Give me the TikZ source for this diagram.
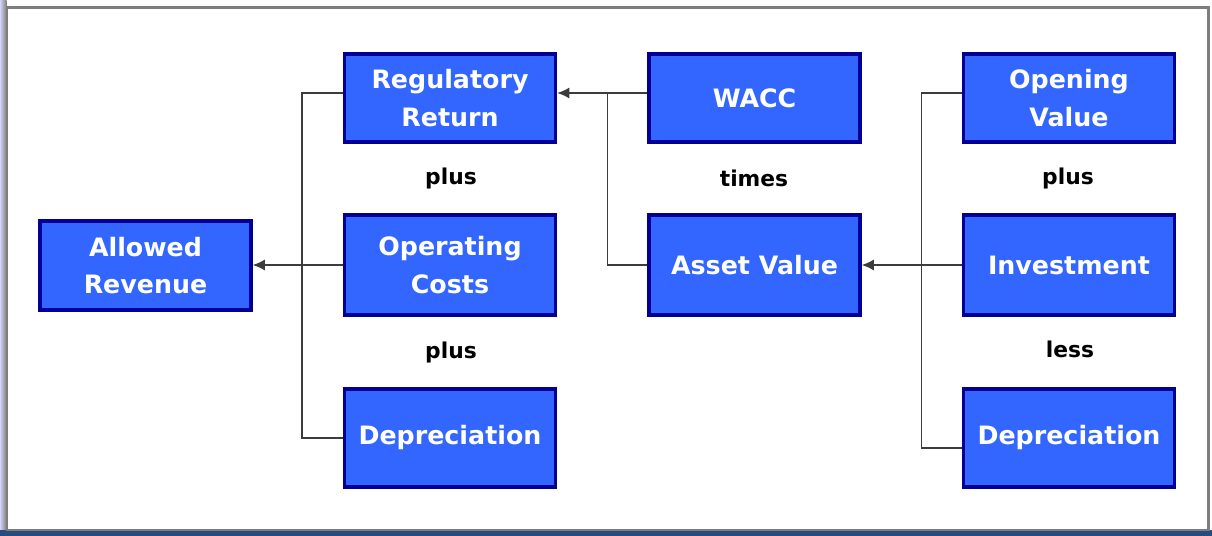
\documentclass[tikz,border=0pt]{standalone}
\usepackage{fontspec}
\setmainfont{DejaVu Sans}
\usetikzlibrary{shapes,arrows,arrows.meta,positioning}

\begin{document}
\begin{tikzpicture}[
    block/.style={draw=boxedge, fill=boxfill, line width=2pt, text=white,
        font=\fontsize{14.4}{21.5}\selectfont\bfseries, align=center,
        minimum width=4.22cm, inner sep=0pt},
    optext/.style={font=\fontsize{12.4}{14}\selectfont\bfseries, text=black},
    link/.style={draw=linegray, line width=0.8pt},
    feed/.style={link, -{Latex[length=2.4mm, width=2.2mm]}},
]

% Define colors
\definecolor{boxfill}{RGB}{51,102,255}
\definecolor{boxedge}{RGB}{0,0,150}
\definecolor{linegray}{RGB}{60,60,60}
\definecolor{framegray}{RGB}{125,125,125}
\definecolor{framenavy}{RGB}{40,75,125}

% Helper for drawing boxes
\newcommand{\flowbox}[4]{%
    % #1 = name, #2 = position, #3 = height, #4 = text
    \node[block, minimum height=#3] (#1) at (#2) {#4};
}

\useasboundingbox (0,0) rectangle (24.24,-10.72);

% Frame
\shade[left color=framegray!30!blue!20, right color=framegray] (0,0) rectangle (0.13,-10.6);
\fill[framenavy] (0,-10.61) rectangle (24.24,-10.72);
\draw[framegray, line width=1.2pt] (0.14,-0.15) rectangle (24.17,-10.6);

% Boxes
\flowbox{allowed}{2.91,-5.31}{1.78cm}{Allowed\\Revenue}
\flowbox{regret}{9.0,-1.96}{1.76cm}{Regulatory\\Return}
\flowbox{opcost}{9.0,-5.3}{2.0cm}{Operating\\Costs}
\flowbox{deprl}{9.0,-8.76}{1.96cm}{Depreciation}
\flowbox{wacc}{15.09,-1.96}{1.76cm}{WACC}
\flowbox{asset}{15.09,-5.3}{2.0cm}{Asset Value}
\flowbox{openv}{21.38,-1.96}{1.76cm}{Opening\\Value}
\flowbox{invest}{21.38,-5.3}{2.0cm}{Investment}
\flowbox{deprr}{21.38,-8.76}{1.96cm}{Depreciation}

% Operators
\node[optext] (plusa) at (9.02,-3.56) {plus};
\node[optext] (plusb) at (9.02,-7.04) {plus};
\node[optext] (times) at (15.08,-3.56) {times};
\node[optext] (plusc) at (21.36,-3.56) {plus};
\node[optext] (less) at (21.40,-6.98) {less};

% Buses
\coordinate (lbus) at (6.04,0);
\coordinate (mbus) at (12.15,0);
\coordinate (rbus) at (18.43,0);
\coordinate (deprrin) at ([yshift=-2mm]deprr.west);

\draw[link] ([yshift=1mm]regret.west) -| (lbus |- deprl.west) -- (deprl.west);
\draw[feed] (opcost.west) -- (opcost.west -| allowed.east);

\draw[link] ([yshift=1mm]wacc.west) -| (mbus |- asset.west) -- (asset.west);
\draw[feed] ([yshift=1mm]wacc.west) -- ([yshift=1mm]regret.east);

\draw[link] ([yshift=1mm]openv.west) -| (rbus |- deprrin) -- (deprrin);
\draw[feed] (invest.west) -- (asset.east);

\end{tikzpicture}
\end{document}
